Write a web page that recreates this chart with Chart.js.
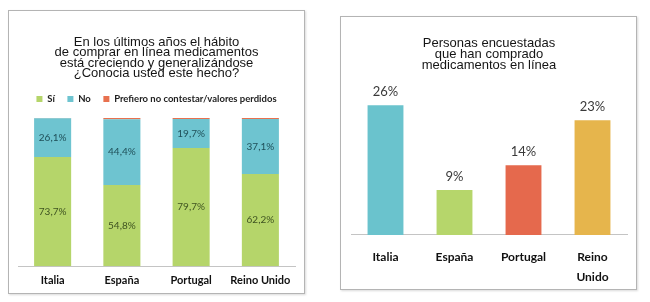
<!DOCTYPE html>
<html>
<head>
<meta charset="utf-8">
<script src="https://cdn.jsdelivr.net/npm/chart.js@4.4.1/dist/chart.umd.min.js"></script>
<style>
  body { margin: 0; background: #fff; width: 650px; height: 302px; position: relative; overflow: hidden; }
  .box { position: absolute; border: 1px solid #b4b4b4; box-shadow: 1px 1px 2px rgba(0,0,0,0.15); background: #fff; }
  #boxA { left: 8px; top: 10px; }
  #boxB { left: 340px; top: 16px; }
  canvas { display: block; }
</style>
</head>
<body>
<div class="box" id="boxA"><canvas id="knownChart" width="295" height="282"></canvas></div>
<div class="box" id="boxB"><canvas id="boughtChart" width="295" height="272"></canvas></div>

<script>
// left chart data
const countries = ['Italia', 'España', 'Portugal', 'Reino Unido'];
const siValues = [73.7, 54.8, 79.7, 62.2];
const noValues = [26.1, 44.4, 19.7, 37.1];
const missingValues = [0.2, 0.8, 0.6, 0.7];

// right chart data
const countriesWrapped = ['Italia', 'España', 'Portugal', ['Reino', 'Unido']];
const boughtValues = [26, 9, 14, 23];
const boughtColors = ['#6ac3cd', '#b6d66b', '#e5694d', '#e6b54c'];

const GREEN = '#b5d56a';
const BLUE = '#6ec4d0';
const ORANGE = '#e8714f';

// draws the value of each bar, inside (centered) or above it
function valueLabels(inside, decimals, offset) {
    return {
        id: 'valueLabels',
        afterDatasetsDraw(chart) {
            const ctx = chart.ctx;
            ctx.save();
            ctx.textAlign = 'center';
            ctx.textBaseline = 'middle';
            chart.data.datasets.forEach((ds, i) => {
                if (ds.noLabel) return;
                ctx.font = ds.labelFont;
                ctx.fillStyle = ds.labelColor;
                chart.getDatasetMeta(i).data.forEach((bar, j) => {
                    const txt = ds.data[j].toFixed(decimals).replace('.', ',') + '%';
                    const y = inside ? (bar.y + bar.base) / 2 : bar.y - offset;
                    ctx.fillText(txt, bar.x, y);
                });
            });
            ctx.restore();
        }
    };
}

new Chart(document.getElementById('knownChart'), {
    type: 'bar',
    data: {
        labels: countries,
        datasets: [
            { label: 'Sí', data: siValues, backgroundColor: GREEN, borderWidth: 0,
              labelColor: '#3e5220', labelFont: '10px Lato' },
            { label: 'No', data: noValues, backgroundColor: BLUE, borderWidth: 0,
              labelColor: '#1f4f58', labelFont: '10px Lato' },
            { label: 'Prefiero no contestar/valores perdidos', data: missingValues,
              backgroundColor: ORANGE, borderWidth: 0, noLabel: true }
        ]
    },
    options: {
        responsive: false,
        animation: false,
        barPercentage: 0.535,
        categoryPercentage: 1,
        layout: { padding: { left: 9, right: 9, top: 0, bottom: -2.4 } },
        scales: {
            x: {
                stacked: true,
                grid: { display: false, drawTicks: false },
                border: { display: true, color: '#c4c4c4', width: 1 },
                ticks: { padding: 8, color: '#111', font: { family: 'Lato', size: 11, weight: 'bold' } }
            },
            y: { stacked: true, display: false, min: 0, max: 102.9 }
        },
        plugins: {
            title: {
                display: true,
                text: ['En los últimos años el hábito', 'de comprar en línea medicamentos',
                       'está creciendo y generalizándose', '¿Conocia usted este hecho?'],
                color: '#151515',
                font: { family: 'Liberation Sans', size: 13, weight: 'normal', lineHeight: 0.8 },
                padding: { top: 26, bottom: 3 }
            },
            legend: {
                display: true,
                labels: {
                    boxWidth: 6, boxHeight: 6, padding: 12.6,
                    color: '#222',
                    font: { family: 'Lato', size: 9.5, weight: 'bold' }
                }
            },
            tooltip: { enabled: false }
        }
    },
    plugins: [valueLabels(true, 1, 0)]
});

new Chart(document.getElementById('boughtChart'), {
    type: 'bar',
    data: {
        labels: countriesWrapped,
        datasets: [
            { label: 'Compraron', data: boughtValues, backgroundColor: boughtColors, borderWidth: 0,
              labelColor: '#3a3a3a', labelFont: '13px Lato' }
        ]
    },
    options: {
        responsive: false,
        animation: false,
        barPercentage: 0.52,
        categoryPercentage: 1,
        layout: { padding: { left: 10, right: 9, top: 0, bottom: -10 } },
        scales: {
            x: {
                grid: { display: false, drawTicks: false },
                border: { display: true, color: '#c4c4c4', width: 1 },
                ticks: { padding: 12, color: '#111', font: { family: 'Lato', size: 12, weight: 'bold', lineHeight: 1.667 } }
            },
            y: { display: false, min: 0, max: 30 }
        },
        plugins: {
            title: {
                display: true,
                text: ['Personas encuestadas', 'que han comprado', 'medicamentos en línea'],
                color: '#151515',
                font: { family: 'Liberation Sans', size: 13, weight: 'normal', lineHeight: 0.85 },
                padding: { top: 21, bottom: 14.2 }
            },
            legend: { display: false },
            tooltip: { enabled: false }
        }
    },
    plugins: [valueLabels(false, 0, 13.5)]
});
</script>
</body>
</html>
